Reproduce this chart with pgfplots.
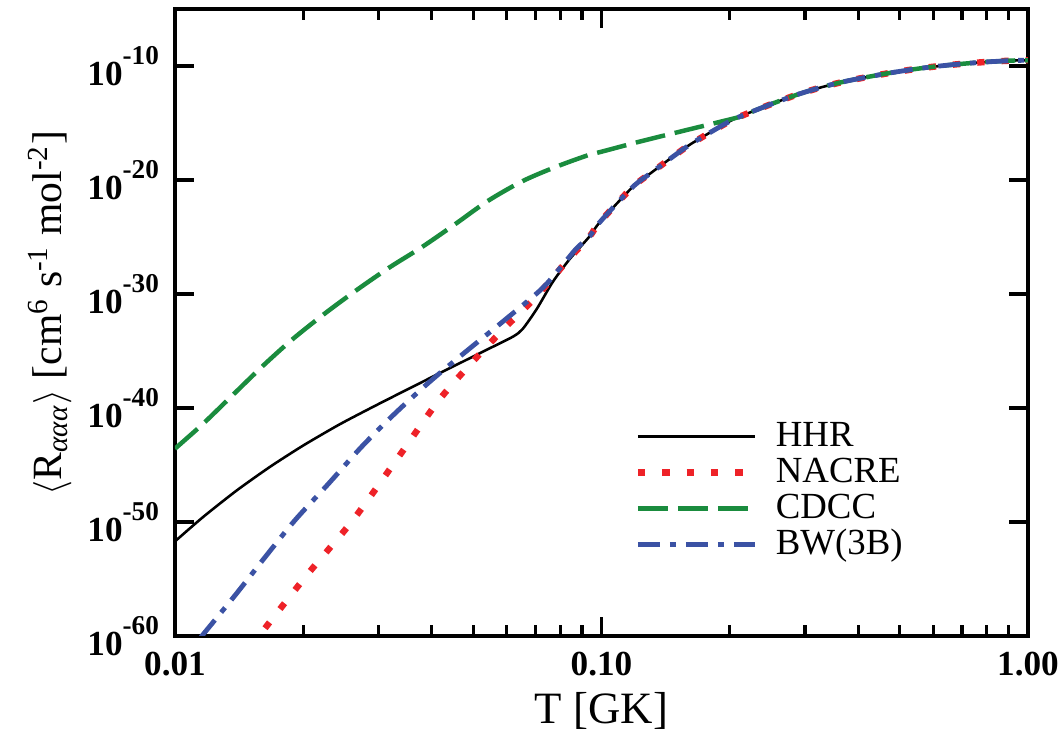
\documentclass[border=0pt]{standalone}
\usepackage{fontspec}
\setmainfont{Liberation Serif}
\usepackage{pgfplots}
\pgfplotsset{compat=1.18}
\definecolor{cred}{RGB}{238,34,40}
\definecolor{cgreen}{RGB}{26,140,62}
\definecolor{cblue}{RGB}{59,82,164}
\newcommand{\tl}[1]{10\raisebox{6.5pt}{\fontsize{8.5}{8.5}\selectfont #1}}
\begin{document}
\begin{tikzpicture}
\begin{axis}[
 scale only axis, width=266.56pt, height=195.94pt,
 xmode=log, ymode=log,
 xmin=0.01, xmax=1, ymin=1e-60, ymax=1e-5,
 xtick={0.01,0.1,1}, xticklabels={0.01,0.10,1.00},
 ytick={1e-60,1e-50,1e-40,1e-30,1e-20,1e-10},
 yticklabels={\tl{-60},\tl{-50},\tl{-40},\tl{-30},\tl{-20},\tl{-10}},
 yminorticks=false,
 tick align=inside,
 major tick length=6pt, minor tick length=3.3pt,
 axis line style={line width=1pt},
 tick style={black, line width=1pt},
 ticklabel style={font=\fontsize{11}{13}\selectfont\bfseries},
 yticklabel style={xshift=-1.5pt},
 xticklabel style={yshift=-1.5pt},
 xlabel={T [GK]},
 ylabel={$\big\langle$R\textsubscript{\textit{ααα}}$\big\rangle$ [cm\textsuperscript{6} s\textsuperscript{-1} mol\textsuperscript{-2}]},
 every axis x label/.style={at={(axis description cs:0.5,-0.1388)}, anchor=base, font=\fontsize{14}{16}\selectfont},
 every axis y label/.style={at={(axis description cs:-0.1465,0.515)}, anchor=center, rotate=90, font=\fontsize{13}{15}\selectfont},
 legend style={at={(axis description cs:0.527,0.355)}, anchor=north west, draw=none, fill=none, font=\fontsize{11.5}{13}\selectfont, row sep=1.25pt, column sep=5.6pt, nodes={inner sep=0pt, text height=8pt, text depth=2pt}},
 legend cell align=left,
 legend image code/.code={\draw[#1] (0pt,0pt) -- (36.5pt,0pt);},
]
% HHR
\addplot[black, line width=0.8pt, smooth, tension=0.4] coordinates {
(0.0100,2.00e-52) (0.01164,2.75e-50) (0.01396,5.89e-48) (0.01669,6.76e-46)
(0.01995,4.90e-44) (0.02434,3.72e-42) (0.02970,1.82e-40) (0.03551,5.37e-39)
(0.04246,1.55e-37) (0.05264,8.51e-36) (0.06189,1.74e-34) (0.06531,8.32e-34)
(0.07047,4.68e-32) (0.07679,1.07e-29) (0.08414,1.10e-27)
(0.09376,1.12e-25) (0.0990,1.91e-24) (0.118,2.19e-21) (0.131,4.47e-20) (0.146,9.12e-19)
(0.161,1.23e-17) (0.181,1.70e-16) (0.203,1.91e-15) (0.228,1.17e-14) (0.258,7.08e-14)
(0.291,3.55e-13) (0.330,1.45e-12) (0.375,4.68e-12) (0.425,1.17e-11) (0.480,2.63e-11)
(0.556,6.03e-11) (0.629,1.05e-10) (0.716,1.66e-10) (0.811,2.34e-10) (0.927,3.02e-10) (1.0,3.16e-10)
};
\addlegendentry{HHR}
% NACRE
\addplot[cred, line width=2pt, dash pattern=on 2.3pt off 5.3pt, smooth, tension=0.5] coordinates {
(0.0150,1.00e-61) (0.0160,2.24e-60) (0.02037,2.14e-55) (0.0261,1.38e-50)
(0.03296,2.40e-45) (0.0413,3.47e-40) (0.04909,6.03e-37) (0.05866,6.92e-34)
(0.07047,6.46e-31) (0.08327,8.91e-28)
(0.09376,1.12e-25) (0.0990,1.91e-24) (0.118,2.19e-21) (0.131,4.47e-20) (0.146,9.12e-19)
(0.161,1.23e-17) (0.181,1.70e-16) (0.203,1.91e-15) (0.228,1.17e-14) (0.258,7.08e-14)
(0.291,3.55e-13) (0.330,1.45e-12) (0.375,4.68e-12) (0.425,1.17e-11) (0.480,2.63e-11)
(0.556,6.03e-11) (0.629,1.05e-10) (0.716,1.66e-10) (0.811,2.34e-10) (0.927,3.02e-10) (1.0,3.16e-10)
};
\addlegendentry{NACRE}
% CDCC
\addplot[cgreen, line width=1.4pt, dash pattern=on 9.4pt off 3.1pt, smooth, tension=0.5] coordinates {
(0.0100,2.69e-44) (0.01164,4.17e-42) (0.0136,1.17e-39) (0.01607,4.90e-37)
(0.01889,1.12e-34) (0.02268,2.57e-32) (0.02684,2.63e-30) (0.03187,2.19e-28)
(0.03789,1.26e-26) (0.04529,1.26e-24) (0.05408,1.41e-22) (0.06531,7.94e-21)
(0.07843,1.48e-19) (0.09376,1.66e-18) (0.1000,3.02e-18) (0.1227,2.29e-17)
(0.1524,1.70e-16) (0.1859,1.05e-15) (0.2138,3.98e-15)
(0.228,1.17e-14) (0.258,7.08e-14)
(0.291,3.55e-13) (0.330,1.45e-12) (0.375,4.68e-12) (0.425,1.17e-11) (0.480,2.63e-11)
(0.556,6.03e-11) (0.629,1.05e-10) (0.716,1.66e-10) (0.811,2.34e-10) (0.927,3.02e-10) (1.0,3.16e-10)
};
\addlegendentry{CDCC}
% BW(3B)
\addplot[cblue, line width=1.5pt, dash pattern=on 6.9pt off 3.1pt on 1.9pt off 3.1pt, smooth, tension=0.5] coordinates {
(0.0115,7.94e-61) (0.01384,3.80e-57) (0.01626,8.13e-54) (0.0191,1.38e-50)
(0.02282,1.95e-47) (0.02741,4.07e-44) (0.03273,3.09e-41) (0.03953,1.95e-38)
(0.04828,1.00e-35) (0.05929,5.13e-33) (0.0723,2.63e-30) (0.0806,2.69e-28)
(0.0874,1.00e-26)
(0.09376,1.12e-25) (0.0990,1.91e-24) (0.118,2.19e-21) (0.131,4.47e-20) (0.146,9.12e-19)
(0.161,1.23e-17) (0.181,1.70e-16) (0.203,1.91e-15) (0.228,1.17e-14) (0.258,7.08e-14)
(0.291,3.55e-13) (0.330,1.45e-12) (0.375,4.68e-12) (0.425,1.17e-11) (0.480,2.63e-11)
(0.556,6.03e-11) (0.629,1.05e-10) (0.716,1.66e-10) (0.811,2.34e-10) (0.927,3.02e-10) (1.0,3.16e-10)
};
\addlegendentry{BW(3B)}
\end{axis}
\pgfresetboundingbox
\path (-54.69pt,-30.31pt) rectangle (277.5pt,198.75pt);
\end{tikzpicture}
\end{document}
